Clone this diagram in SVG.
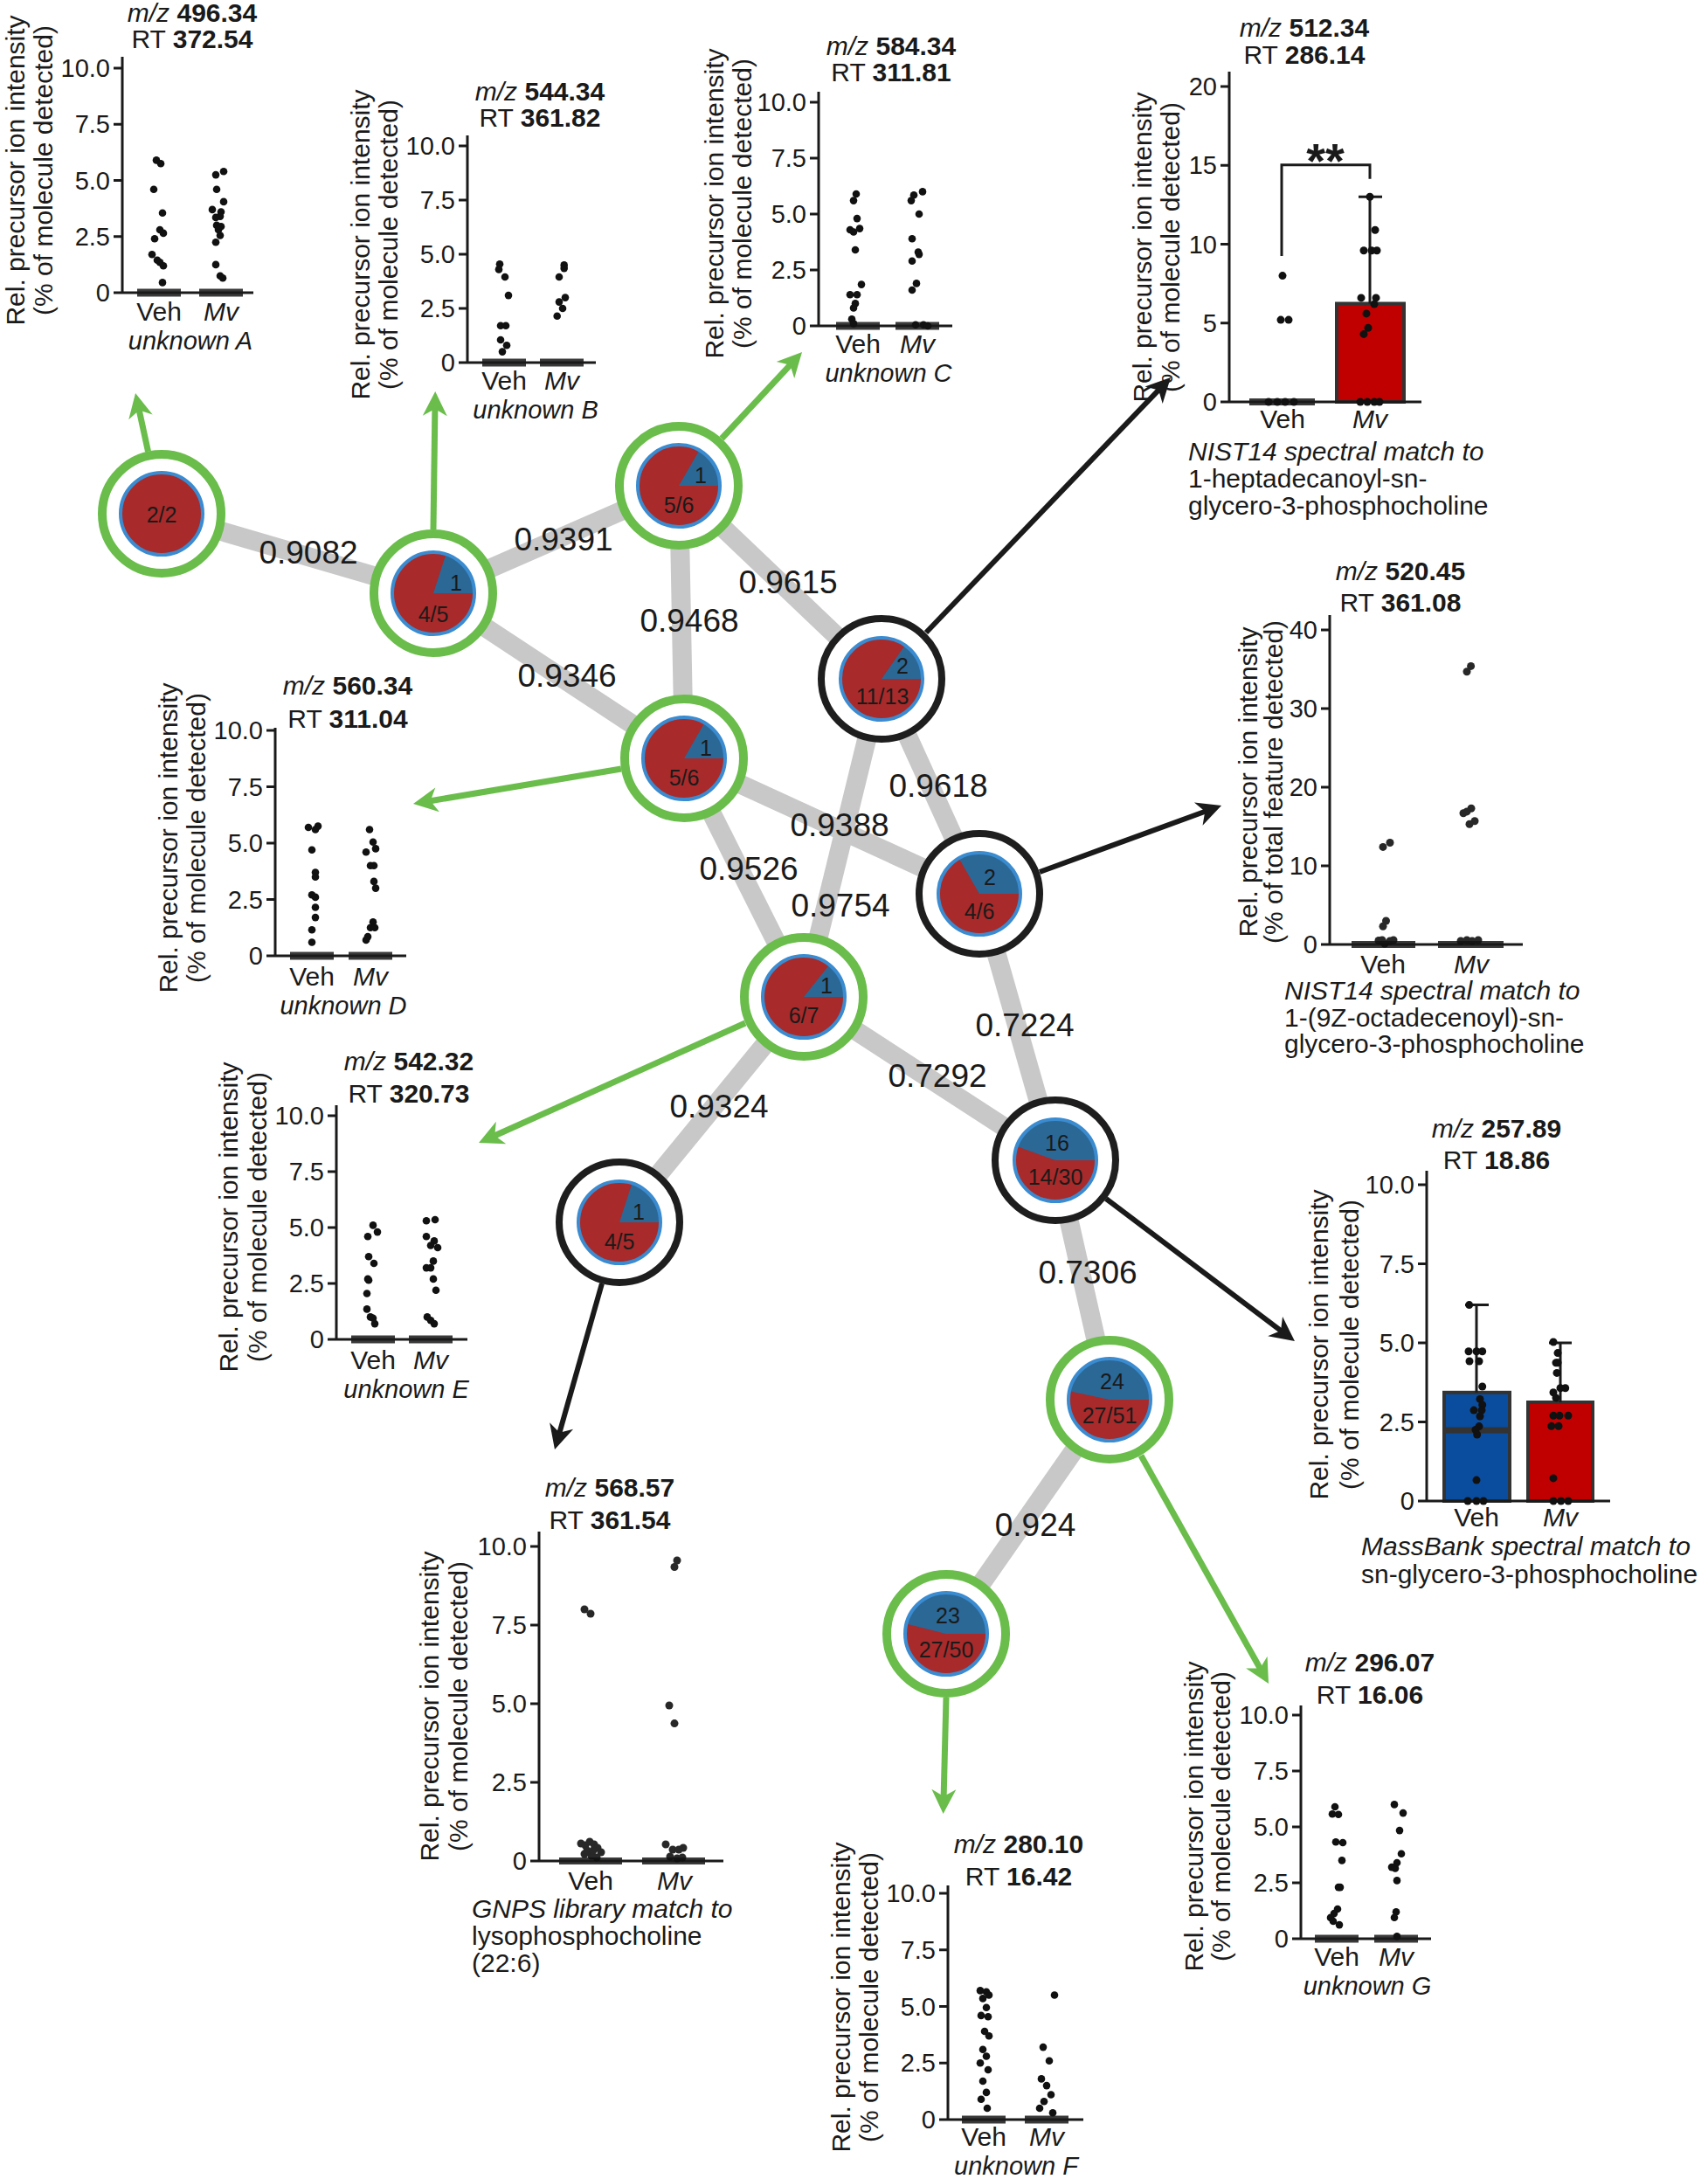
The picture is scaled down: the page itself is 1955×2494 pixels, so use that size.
<svg xmlns="http://www.w3.org/2000/svg" width="1955" height="2494" viewBox="0 0 1955 2494">
<style>
text{font-family:"Liberation Sans",Arial,sans-serif;fill:#1a1a1a}
.ti{font-size:30px;text-anchor:middle}
.tl{font-size:29px;text-anchor:end}
.cl{font-size:30px;text-anchor:middle}
.un{font-size:29px;text-anchor:middle;font-style:italic}
.yt{font-size:30px;text-anchor:middle}
.cap{font-size:30px}
.it{font-style:italic}
.b{font-weight:bold}
.ax{stroke:#1a1a1a;stroke-width:3;fill:none}
.band{fill:#3a3a3a}
.d circle{fill:#111}
.edge{stroke:#c8c8c8;stroke-width:22;stroke-linecap:butt;fill:none}
.el{font-size:37px;text-anchor:middle}
.rg{fill:#fff;stroke:#6abd4b;stroke-width:10}
.rk{fill:#fff;stroke:#1e1e1e;stroke-width:8}
.pr{fill:#a82a2a}
.pb{fill:#2b6896}
.pe{fill:none;stroke:#3a8bd0;stroke-width:4}
.nl{font-size:25px;text-anchor:middle}
.cg{stroke:#6abd4b;stroke-width:7;fill:none}
.ck{stroke:#1a1a1a;stroke-width:6;fill:none}
.bar{stroke:#333;stroke-width:4}
</style>
<defs>
<marker id="ag" markerUnits="userSpaceOnUse" markerWidth="40" markerHeight="40" viewBox="-20 -20 40 40" refX="0" refY="0" orient="auto"><path d="M14,0 L-14,-14 L-6,0 L-14,14 Z" fill="#6abd4b"/></marker>
<marker id="ak" markerUnits="userSpaceOnUse" markerWidth="40" markerHeight="40" viewBox="-20 -20 40 40" refX="0" refY="0" orient="auto"><path d="M14,0 L-14,-14 L-6,0 L-14,14 Z" fill="#1a1a1a"/></marker>
</defs>
<rect width="1955" height="2494" fill="#fff"/>

<g id="edges">
<line class="edge" x1="185" y1="588" x2="496" y2="679"/>
<line class="edge" x1="496" y1="679" x2="777" y2="556"/>
<line class="edge" x1="496" y1="679" x2="783" y2="868"/>
<line class="edge" x1="777" y1="556" x2="783" y2="868"/>
<line class="edge" x1="777" y1="556" x2="1009" y2="777"/>
<line class="edge" x1="783" y1="868" x2="1121" y2="1023"/>
<line class="edge" x1="1009" y1="777" x2="920" y2="1141"/>
<line class="edge" x1="1009" y1="777" x2="1121" y2="1023"/>
<line class="edge" x1="783" y1="868" x2="920" y2="1141"/>
<line class="edge" x1="920" y1="1141" x2="709" y2="1399"/>
<line class="edge" x1="920" y1="1141" x2="1208" y2="1328"/>
<line class="edge" x1="1121" y1="1023" x2="1208" y2="1328"/>
<line class="edge" x1="1208" y1="1328" x2="1270" y2="1602"/>
<line class="edge" x1="1270" y1="1602" x2="1083" y2="1870"/>
<text class="el" x="353" y="645">0.9082</text>
<text class="el" x="645" y="630">0.9391</text>
<text class="el" x="902" y="679">0.9615</text>
<text class="el" x="789" y="723">0.9468</text>
<text class="el" x="649" y="786">0.9346</text>
<text class="el" x="857" y="1007">0.9526</text>
<text class="el" x="961" y="957">0.9388</text>
<text class="el" x="962" y="1049">0.9754</text>
<text class="el" x="1074" y="912">0.9618</text>
<text class="el" x="1173" y="1186">0.7224</text>
<text class="el" x="1073" y="1244">0.7292</text>
<text class="el" x="823" y="1279">0.9324</text>
<text class="el" x="1245" y="1469">0.7306</text>
<text class="el" x="1185" y="1758">0.924</text>
</g>

<g id="connectors">
<line class="cg" x1="169.5" y1="516.7" x2="158" y2="463.7" marker-end="url(#ag)"/>
<line class="cg" x1="496" y1="606" x2="498" y2="462" marker-end="url(#ag)"/>
<line class="cg" x1="826" y1="502" x2="908.5" y2="413.3" marker-end="url(#ag)"/>
<line class="ck" x1="1060" y1="724" x2="1330.3" y2="442.1" marker-end="url(#ak)"/>
<line class="cg" x1="711" y1="880" x2="486.8" y2="917.7" marker-end="url(#ag)"/>
<line class="ck" x1="1190" y1="998" x2="1384.9" y2="926.8" marker-end="url(#ak)"/>
<line class="cg" x1="853" y1="1171" x2="560.8" y2="1302.3" marker-end="url(#ag)"/>
<line class="ck" x1="689" y1="1469" x2="638.8" y2="1645.5" marker-end="url(#ak)"/>
<line class="ck" x1="1266" y1="1372" x2="1470.8" y2="1526.6" marker-end="url(#ak)"/>
<line class="cg" x1="1306" y1="1666" x2="1445.2" y2="1914.8" marker-end="url(#ag)"/>
<line class="cg" x1="1083" y1="1943" x2="1080" y2="2062" marker-end="url(#ag)"/>
</g>

<g id="node-2-2" transform="translate(185,588)">
<circle r="68" class="rg"/><circle r="47" class="pr"/><circle r="47" class="pe"/>
<text class="nl" x="0" y="10">2/2</text>
</g>
<g id="node-4-5a" transform="translate(496,679)">
<circle r="68" class="rg"/><circle r="47" class="pr"/>
<path class="pb" d="M0,0 L47,0 A47,47 0 0 0 14.5,-44.7 Z"/><circle r="47" class="pe"/>
<text class="nl" x="26" y="-3">1</text><text class="nl" x="0" y="33">4/5</text>
</g>
<g id="node-5-6a" transform="translate(777,556)">
<circle r="68" class="rg"/><circle r="47" class="pr"/>
<path class="pb" d="M0,0 L47,0 A47,47 0 0 0 23.5,-40.7 Z"/><circle r="47" class="pe"/>
<text class="nl" x="25" y="-3">1</text><text class="nl" x="0" y="31">5/6</text>
</g>
<g id="node-5-6b" transform="translate(783,868)">
<circle r="68" class="rg"/><circle r="47" class="pr"/>
<path class="pb" d="M0,0 L47,0 A47,47 0 0 0 23.5,-40.7 Z"/><circle r="47" class="pe"/>
<text class="nl" x="25" y="-3">1</text><text class="nl" x="0" y="31">5/6</text>
</g>
<g id="node-11-13" transform="translate(1009,777)">
<circle r="69" class="rk"/><circle r="47" class="pr"/>
<path class="pb" d="M0,0 L47,0 A47,47 0 0 0 27,-38.5 Z"/><circle r="47" class="pe"/>
<text class="nl" x="24" y="-6">2</text><text class="nl" x="1" y="29">11/13</text>
</g>
<g id="node-4-6" transform="translate(1121,1023)">
<circle r="69" class="rk"/><circle r="47" class="pr"/>
<path class="pb" d="M0,0 L47,0 A47,47 0 0 0 -23.5,-40.7 Z"/><circle r="47" class="pe"/>
<text class="nl" x="12" y="-10">2</text><text class="nl" x="0" y="29">4/6</text>
</g>
<g id="node-6-7" transform="translate(920,1141)">
<circle r="68" class="rg"/><circle r="47" class="pr"/>
<path class="pb" d="M0,0 L47,0 A47,47 0 0 0 29.3,-36.7 Z"/><circle r="47" class="pe"/>
<text class="nl" x="26" y="-4">1</text><text class="nl" x="0" y="30">6/7</text>
</g>
<g id="node-4-5b" transform="translate(709,1399)">
<circle r="69" class="rk"/><circle r="47" class="pr"/>
<path class="pb" d="M0,0 L47,0 A47,47 0 0 0 14.5,-44.7 Z"/><circle r="47" class="pe"/>
<text class="nl" x="22" y="-3">1</text><text class="nl" x="0" y="31">4/5</text>
</g>
<g id="node-14-30" transform="translate(1208,1328)">
<circle r="69" class="rk"/><circle r="47" class="pr"/>
<path class="pb" d="M0,0 L47,0 A47,47 0 0 0 -44.2,-16.1 Z"/><circle r="47" class="pe"/>
<text class="nl" x="2" y="-11">16</text><text class="nl" x="0" y="28">14/30</text>
</g>
<g id="node-27-51" transform="translate(1270,1602)">
<circle r="68" class="rg"/><circle r="47" class="pr"/>
<path class="pb" d="M0,0 L47,0 A47,47 0 0 0 -46,-9.8 Z"/><circle r="47" class="pe"/>
<text class="nl" x="3" y="-12">24</text><text class="nl" x="0" y="27">27/51</text>
</g>
<g id="node-27-50" transform="translate(1083,1870)">
<circle r="68" class="rg"/><circle r="47" class="pr"/>
<path class="pb" d="M0,0 L47,0 A47,47 0 0 0 -45.6,-11.4 Z"/><circle r="47" class="pe"/>
<text class="nl" x="2" y="-12">23</text><text class="nl" x="0" y="27">27/50</text>
</g>

<g id="plot-A" transform="translate(140,335)">
<text class="ti" x="80" y="-310"><tspan class="it">m/z</tspan> <tspan class="b">496.34</tspan></text>
<text class="ti" x="80" y="-280">RT <tspan class="b">372.54</tspan></text>
<rect class="band" x="17" y="-4.5" width="50" height="9"/><rect class="band" x="88" y="-4.5" width="50" height="9"/>
<path class="ax" d="M0,-270 V0 M-10,0 H150 M-10,-257 H0 M-10,-192.75 H0 M-10,-128.5 H0 M-10,-64.25 H0"/>
<text class="tl" x="-14" y="-247">10.0</text><text class="tl" x="-14" y="-182.75">7.5</text><text class="tl" x="-14" y="-118.5">5.0</text><text class="tl" x="-14" y="-54.25">2.5</text><text class="tl" x="-14" y="10">0</text>
<g class="d"><circle cx="39" cy="-151.6" r="4.3"/><circle cx="44" cy="-147.8" r="4.3"/><circle cx="36" cy="-118.2" r="4.3"/><circle cx="46" cy="-91.2" r="4.3"/><circle cx="43" cy="-72" r="4.3"/><circle cx="47" cy="-68.1" r="4.3"/><circle cx="37" cy="-61.7" r="4.3"/><circle cx="34" cy="-43.7" r="4.3"/><circle cx="40" cy="-37.3" r="4.3"/><circle cx="43" cy="-34.7" r="4.3"/><circle cx="47" cy="-30.8" r="4.3"/><circle cx="46" cy="-11.6" r="4.3"/>
<circle cx="107" cy="-134.9" r="4.3"/><circle cx="116" cy="-138.8" r="4.3"/><circle cx="108" cy="-118.2" r="4.3"/><circle cx="103" cy="-95.1" r="4.3"/><circle cx="116" cy="-104.1" r="4.3"/><circle cx="113" cy="-92.5" r="4.3"/><circle cx="112" cy="-87.4" r="4.3"/><circle cx="107" cy="-86.1" r="4.3"/><circle cx="108" cy="-77.1" r="4.3"/><circle cx="113" cy="-75.8" r="4.3"/><circle cx="110" cy="-72" r="4.3"/><circle cx="112" cy="-65.5" r="4.3"/><circle cx="107" cy="-57.8" r="4.3"/><circle cx="107" cy="-32.1" r="4.3"/><circle cx="112" cy="-19.3" r="4.3"/><circle cx="115" cy="-16.7" r="4.3"/></g>
<text class="cl" x="42" y="32">Veh</text><text class="cl it" x="113" y="32">Mv</text>
<text class="un" x="78" y="65">unknown A</text>
<text class="yt" transform="translate(-112,-140) rotate(-90)">Rel. precursor ion intensity</text>
<text class="yt" transform="translate(-80,-140) rotate(-90)">(% of molecule detected)</text>
</g>

<g id="plot-B" transform="translate(535,415)">
<text class="ti" x="83" y="-300"><tspan class="it">m/z</tspan> <tspan class="b">544.34</tspan></text>
<text class="ti" x="83" y="-270">RT <tspan class="b">361.82</tspan></text>
<rect class="band" x="17" y="-4.5" width="50" height="9"/><rect class="band" x="83" y="-4.5" width="50" height="9"/>
<path class="ax" d="M0,-260 V0 M-10,0 H147 M-10,-248 H0 M-10,-186 H0 M-10,-124 H0 M-10,-62 H0"/>
<text class="tl" x="-14" y="-238">10.0</text><text class="tl" x="-14" y="-176">7.5</text><text class="tl" x="-14" y="-114">5.0</text><text class="tl" x="-14" y="-52">2.5</text><text class="tl" x="-14" y="10">0</text>
<g class="d"><circle cx="37" cy="-112.8" r="4.3"/><circle cx="36" cy="-106.6" r="4.3"/><circle cx="43" cy="-98" r="4.3"/><circle cx="47" cy="-76.9" r="4.3"/><circle cx="38" cy="-42.2" r="4.3"/><circle cx="44" cy="-42.2" r="4.3"/><circle cx="38" cy="-26" r="4.3"/><circle cx="45" cy="-19.8" r="4.3"/><circle cx="40" cy="-12.4" r="4.3"/>
<circle cx="110.7" cy="-111.6" r="4.3"/><circle cx="110.7" cy="-107.9" r="4.3"/><circle cx="105" cy="-98" r="4.3"/><circle cx="105" cy="-69.4" r="4.3"/><circle cx="112" cy="-74.4" r="4.3"/><circle cx="109" cy="-62" r="4.3"/><circle cx="102.7" cy="-53.3" r="4.3"/></g>
<text class="cl" x="42" y="31">Veh</text><text class="cl it" x="108" y="31">Mv</text>
<text class="un" x="78" y="64">unknown B</text>
<text class="yt" transform="translate(-112,-135) rotate(-90)">Rel. precursor ion intensity</text>
<text class="yt" transform="translate(-80,-135) rotate(-90)">(% of molecule detected)</text>
</g>

<g id="plot-C" transform="translate(937,373)">
<text class="ti" x="83" y="-310"><tspan class="it">m/z</tspan> <tspan class="b">584.34</tspan></text>
<text class="ti" x="83" y="-280">RT <tspan class="b">311.81</tspan></text>
<rect class="band" x="20" y="-4.5" width="50" height="9"/><rect class="band" x="88" y="-4.5" width="50" height="9"/>
<path class="ax" d="M0,-268 V0 M-10,0 H153 M-10,-256 H0 M-10,-192 H0 M-10,-128 H0 M-10,-64 H0"/>
<text class="tl" x="-14" y="-246">10.0</text><text class="tl" x="-14" y="-182">7.5</text><text class="tl" x="-14" y="-118">5.0</text><text class="tl" x="-14" y="-54">2.5</text><text class="tl" x="-14" y="10">0</text>
<g class="d"><circle cx="43" cy="-151" r="4.3"/><circle cx="40" cy="-143.4" r="4.3"/><circle cx="44" cy="-122.9" r="4.3"/><circle cx="36" cy="-110" r="4.3"/><circle cx="40" cy="-107.5" r="4.3"/><circle cx="47" cy="-111.4" r="4.3"/><circle cx="42" cy="-87" r="4.3"/><circle cx="49" cy="-47.4" r="4.3"/><circle cx="36" cy="-35.8" r="4.3"/><circle cx="44" cy="-35.8" r="4.3"/><circle cx="42" cy="-25.6" r="4.3"/><circle cx="40" cy="-20.5" r="4.3"/><circle cx="38" cy="-7.7" r="4.3"/><circle cx="40" cy="-2.6" r="4.3"/>
<circle cx="119" cy="-153.6" r="4.3"/><circle cx="109" cy="-149.8" r="4.3"/><circle cx="106" cy="-143.4" r="4.3"/><circle cx="115" cy="-128" r="4.3"/><circle cx="107" cy="-99.8" r="4.3"/><circle cx="114" cy="-84.5" r="4.3"/><circle cx="115" cy="-81.9" r="4.3"/><circle cx="107" cy="-74.2" r="4.3"/><circle cx="112" cy="-48.6" r="4.3"/><circle cx="107" cy="-41" r="4.3"/><circle cx="120" cy="-1.3" r="4.3"/><circle cx="125" cy="0" r="4.3"/><circle cx="111" cy="-1.3" r="4.3"/></g>
<text class="cl" x="45" y="31">Veh</text><text class="cl it" x="113" y="31">Mv</text>
<text class="un" x="80" y="64">unknown C</text>
<text class="yt" transform="translate(-109,-140) rotate(-90)">Rel. precursor ion intensity</text>
<text class="yt" transform="translate(-77,-140) rotate(-90)">(% of molecule detected)</text>
</g>

<g id="plot-D" transform="translate(315,1094)">
<text class="ti" x="83" y="-299"><tspan class="it">m/z</tspan> <tspan class="b">560.34</tspan></text>
<text class="ti" x="83" y="-261">RT <tspan class="b">311.04</tspan></text>
<rect class="band" x="17" y="-4.5" width="50" height="9"/><rect class="band" x="84" y="-4.5" width="50" height="9"/>
<path class="ax" d="M0,-261 V0 M-10,0 H150 M-10,-258 H0 M-10,-193.5 H0 M-10,-129 H0 M-10,-64.5 H0"/>
<text class="tl" x="-14" y="-248">10.0</text><text class="tl" x="-14" y="-183.5">7.5</text><text class="tl" x="-14" y="-119">5.0</text><text class="tl" x="-14" y="-54.5">2.5</text><text class="tl" x="-14" y="10">0</text>
<g class="d"><circle cx="38" cy="-147" r="4.3"/><circle cx="49" cy="-148.4" r="4.3"/><circle cx="46" cy="-144.5" r="4.3"/><circle cx="42" cy="-121.3" r="4.3"/><circle cx="46" cy="-95.5" r="4.3"/><circle cx="46" cy="-90.3" r="4.3"/><circle cx="42" cy="-69.7" r="4.3"/><circle cx="46" cy="-67.1" r="4.3"/><circle cx="46" cy="-55.5" r="4.3"/><circle cx="46" cy="-43.9" r="4.3"/><circle cx="42" cy="-29.7" r="4.3"/><circle cx="42" cy="-15.5" r="4.3"/>
<circle cx="108" cy="-144.5" r="4.3"/><circle cx="112" cy="-130.3" r="4.3"/><circle cx="115" cy="-122.6" r="4.3"/><circle cx="104" cy="-118.7" r="4.3"/><circle cx="109" cy="-103.2" r="4.3"/><circle cx="113" cy="-103.2" r="4.3"/><circle cx="113" cy="-85.1" r="4.3"/><circle cx="115" cy="-77.4" r="4.3"/><circle cx="112" cy="-38.7" r="4.3"/><circle cx="109" cy="-32.3" r="4.3"/><circle cx="114" cy="-32.3" r="4.3"/><circle cx="106" cy="-21.9" r="4.3"/><circle cx="104" cy="-18.1" r="4.3"/></g>
<text class="cl" x="42" y="34">Veh</text><text class="cl it" x="109" y="34">Mv</text>
<text class="un" x="78" y="67">unknown D</text>
<text class="yt" transform="translate(-112,-135) rotate(-90)">Rel. precursor ion intensity</text>
<text class="yt" transform="translate(-80,-135) rotate(-90)">(% of molecule detected)</text>
</g>

<g id="plot-E" transform="translate(385,1533)">
<text class="ti" x="83" y="-308"><tspan class="it">m/z</tspan> <tspan class="b">542.32</tspan></text>
<text class="ti" x="83" y="-271">RT <tspan class="b">320.73</tspan></text>
<rect class="band" x="17" y="-4.5" width="50" height="9"/><rect class="band" x="83" y="-4.5" width="50" height="9"/>
<path class="ax" d="M0,-268 V0 M-10,0 H150 M-10,-256 H0 M-10,-192 H0 M-10,-128 H0 M-10,-64 H0"/>
<text class="tl" x="-14" y="-246">10.0</text><text class="tl" x="-14" y="-182">7.5</text><text class="tl" x="-14" y="-118">5.0</text><text class="tl" x="-14" y="-54">2.5</text><text class="tl" x="-14" y="10">0</text>
<g class="d"><circle cx="42" cy="-130.6" r="4.3"/><circle cx="36" cy="-117.8" r="4.3"/><circle cx="47" cy="-122.9" r="4.3"/><circle cx="37" cy="-94.7" r="4.3"/><circle cx="43" cy="-87" r="4.3"/><circle cx="36" cy="-69.1" r="4.3"/><circle cx="37" cy="-67.8" r="4.3"/><circle cx="35" cy="-52.5" r="4.3"/><circle cx="35" cy="-34.6" r="4.3"/><circle cx="39" cy="-25.6" r="4.3"/><circle cx="42" cy="-24.3" r="4.3"/><circle cx="44" cy="-17.9" r="4.3"/>
<circle cx="103" cy="-135.7" r="4.3"/><circle cx="113" cy="-137" r="4.3"/><circle cx="103" cy="-117.8" r="4.3"/><circle cx="112" cy="-112.6" r="4.3"/><circle cx="108" cy="-107.5" r="4.3"/><circle cx="116" cy="-105" r="4.3"/><circle cx="111" cy="-89.6" r="4.3"/><circle cx="103" cy="-81.9" r="4.3"/><circle cx="108" cy="-81.9" r="4.3"/><circle cx="111" cy="-69.1" r="4.3"/><circle cx="114" cy="-56.3" r="4.3"/><circle cx="104" cy="-25.6" r="4.3"/><circle cx="108" cy="-21.8" r="4.3"/><circle cx="112" cy="-17.9" r="4.3"/></g>
<text class="cl" x="42" y="34">Veh</text><text class="cl it" x="108" y="34">Mv</text>
<text class="un" x="80" y="67">unknown E</text>
<text class="yt" transform="translate(-113,-140) rotate(-90)">Rel. precursor ion intensity</text>
<text class="yt" transform="translate(-80,-140) rotate(-90)">(% of molecule detected)</text>
</g>

<g id="plot-F" transform="translate(1085,2426)">
<text class="ti" x="81" y="-305"><tspan class="it">m/z</tspan> <tspan class="b">280.10</tspan></text>
<text class="ti" x="81" y="-268">RT <tspan class="b">16.42</tspan></text>
<rect class="band" x="16" y="-4.5" width="50" height="9"/><rect class="band" x="88" y="-4.5" width="50" height="9"/>
<path class="ax" d="M0,-268 V0 M-10,0 H155 M-10,-259 H0 M-10,-194.25 H0 M-10,-129.5 H0 M-10,-64.75 H0"/>
<text class="tl" x="-14" y="-249">10.0</text><text class="tl" x="-14" y="-184.25">7.5</text><text class="tl" x="-14" y="-119.5">5.0</text><text class="tl" x="-14" y="-54.75">2.5</text><text class="tl" x="-14" y="10">0</text>
<g class="d"><circle cx="37" cy="-147.6" r="4.3"/><circle cx="44" cy="-146.3" r="4.3"/><circle cx="47" cy="-142.5" r="4.3"/><circle cx="40" cy="-138.6" r="4.3"/><circle cx="44" cy="-128.2" r="4.3"/><circle cx="38" cy="-119.1" r="4.3"/><circle cx="46" cy="-117.8" r="4.3"/><circle cx="42" cy="-101" r="4.3"/><circle cx="47" cy="-95.8" r="4.3"/><circle cx="40" cy="-80.3" r="4.3"/><circle cx="44" cy="-72.5" r="4.3"/><circle cx="37" cy="-64.8" r="4.3"/><circle cx="46" cy="-57" r="4.3"/><circle cx="40" cy="-44" r="4.3"/><circle cx="44" cy="-31.1" r="4.3"/><circle cx="38" cy="-23.3" r="4.3"/><circle cx="45" cy="-13" r="4.3"/>
<circle cx="122" cy="-142.5" r="4.3"/><circle cx="109" cy="-82.9" r="4.3"/><circle cx="116" cy="-67.3" r="4.3"/><circle cx="107" cy="-46.6" r="4.3"/><circle cx="113" cy="-38.9" r="4.3"/><circle cx="118" cy="-28.5" r="4.3"/><circle cx="110" cy="-20.7" r="4.3"/><circle cx="105" cy="-13" r="4.3"/><circle cx="120" cy="-7.8" r="4.3"/></g>
<text class="cl" x="41" y="30">Veh</text><text class="cl it" x="113" y="30">Mv</text>
<text class="un" x="78" y="63">unknown F</text>
<text class="yt" transform="translate(-112,-140) rotate(-90)">Rel. precursor ion intensity</text>
<text class="yt" transform="translate(-80,-140) rotate(-90)">(% of molecule detected)</text>
</g>

<g id="plot-G" transform="translate(1489,2219)">
<text class="ti" x="79" y="-306"><tspan class="it">m/z</tspan> <tspan class="b">296.07</tspan></text>
<text class="ti" x="79" y="-269">RT <tspan class="b">16.06</tspan></text>
<rect class="band" x="16" y="-4.5" width="50" height="9"/><rect class="band" x="84" y="-4.5" width="50" height="9"/>
<path class="ax" d="M0,-267 V0 M-10,0 H149 M-10,-256 H0 M-10,-192 H0 M-10,-128 H0 M-10,-64 H0"/>
<text class="tl" x="-14" y="-246">10.0</text><text class="tl" x="-14" y="-182">7.5</text><text class="tl" x="-14" y="-118">5.0</text><text class="tl" x="-14" y="-54">2.5</text><text class="tl" x="-14" y="10">0</text>
<g class="d"><circle cx="39" cy="-151" r="4.3"/><circle cx="36" cy="-142.8" r="4.3"/><circle cx="43" cy="-142.3" r="4.3"/><circle cx="40" cy="-110.8" r="4.3"/><circle cx="48" cy="-110" r="4.3"/><circle cx="47" cy="-89.6" r="4.3"/><circle cx="43" cy="-58.9" r="4.3"/><circle cx="45" cy="-58.9" r="4.3"/><circle cx="42" cy="-34" r="4.3"/><circle cx="38" cy="-28.9" r="4.3"/><circle cx="34" cy="-24.1" r="4.3"/><circle cx="37" cy="-20" r="4.3"/><circle cx="44" cy="-15.9" r="4.3"/>
<circle cx="107" cy="-153.6" r="4.3"/><circle cx="117" cy="-143.9" r="4.3"/><circle cx="113" cy="-123.9" r="4.3"/><circle cx="115" cy="-97.3" r="4.3"/><circle cx="104" cy="-81.9" r="4.3"/><circle cx="108" cy="-80.6" r="4.3"/><circle cx="110" cy="-87" r="4.3"/><circle cx="110" cy="-66.6" r="4.3"/><circle cx="109" cy="-30.7" r="4.3"/><circle cx="107" cy="-24.3" r="4.3"/><circle cx="110" cy="-2.6" r="4.3"/></g>
<text class="cl" x="41" y="31">Veh</text><text class="cl it" x="109" y="31">Mv</text>
<text class="un" x="76" y="64">unknown G</text>
<text class="yt" transform="translate(-112,-140) rotate(-90)">Rel. precursor ion intensity</text>
<text class="yt" transform="translate(-81,-140) rotate(-90)">(% of molecule detected)</text>
</g>

<g id="plot-H" transform="translate(1407,460)">
<text class="ti" x="86" y="-418"><tspan class="it">m/z</tspan> <tspan class="b">512.34</tspan></text>
<text class="ti" x="86" y="-387">RT <tspan class="b">286.14</tspan></text>
<rect class="band" x="23" y="-4" width="75" height="8"/>
<rect class="bar" x="123" y="-112.5" width="77" height="112.5" fill="#c00000"/>
<path class="ax" d="M161,-112.5 V-234.7 M148,-234.7 H175"/>
<path class="ax" d="M0,-378 V0 M-10,0 H220 M-10,-361 H0 M-10,-270.75 H0 M-10,-180.5 H0 M-10,-90.25 H0"/>
<text class="tl" x="-14" y="-351">20</text><text class="tl" x="-14" y="-260.75">15</text><text class="tl" x="-14" y="-170.5">10</text><text class="tl" x="-14" y="-80.25">5</text><text class="tl" x="-14" y="10">0</text>
<path class="ax" d="M60,-167 V-271.3 H161 V-255.3"/>
<text x="110" y="-257" font-size="56" font-weight="bold" text-anchor="middle">**</text>
<g class="d"><circle cx="61" cy="-144.4" r="4.5"/><circle cx="59" cy="-93.9" r="4.5"/><circle cx="68" cy="-93.9" r="4.5"/><circle cx="45" cy="0" r="4.5"/><circle cx="55" cy="0" r="4.5"/><circle cx="64" cy="0" r="4.5"/><circle cx="74" cy="0" r="4.5"/>
<circle cx="161" cy="-234.7" r="4.5"/><circle cx="167" cy="-196.7" r="4.5"/><circle cx="154" cy="-173.3" r="4.5"/><circle cx="169" cy="-173.3" r="4.5"/><circle cx="163" cy="-173.3" r="4.5"/><circle cx="151" cy="-119.1" r="4.5"/><circle cx="168" cy="-119.1" r="4.5"/><circle cx="166" cy="-111.9" r="4.5"/><circle cx="157" cy="-101.1" r="4.5"/><circle cx="159" cy="-84.8" r="4.5"/><circle cx="154" cy="-77.6" r="4.5"/><circle cx="150" cy="0" r="4.5"/><circle cx="158" cy="0" r="4.5"/><circle cx="166" cy="0" r="4.5"/><circle cx="172" cy="0" r="4.5"/></g>
<text class="cl" x="61" y="30">Veh</text><text class="cl it" x="161" y="30">Mv</text>
<text class="cap it" x="-47" y="67">NIST14 spectral match to</text>
<text class="cap" x="-47" y="98">1-heptadecanoyl-sn-</text>
<text class="cap" x="-47" y="129">glycero-3-phosphocholine</text>
<text class="yt" transform="translate(-89,-177) rotate(-90)">Rel. precursor ion intensity</text>
<text class="yt" transform="translate(-57,-177) rotate(-90)">(% of molecule detected)</text>
</g>

<g id="plot-I" transform="translate(1522,1081)">
<text class="ti" x="81" y="-417"><tspan class="it">m/z</tspan> <tspan class="b">520.45</tspan></text>
<text class="ti" x="81" y="-381">RT <tspan class="b">361.08</tspan></text>
<rect class="band" x="25" y="-4" width="73" height="8"/><rect class="band" x="124" y="-4" width="75" height="8"/>
<path class="ax" d="M0,-377 V0 M-10,0 H221 M-10,-360 H0 M-10,-270 H0 M-10,-180 H0 M-10,-90 H0"/>
<text class="tl" x="-14" y="-350">40</text><text class="tl" x="-14" y="-260">30</text><text class="tl" x="-14" y="-170">20</text><text class="tl" x="-14" y="-80">10</text><text class="tl" x="-14" y="10">0</text>
<g class="d" opacity="0.9"><circle cx="69" cy="-116.5" r="4.5"/><circle cx="61" cy="-111.6" r="4.5"/><circle cx="64.5" cy="-27" r="4.5"/><circle cx="61" cy="-20.7" r="4.5"/><circle cx="56" cy="-4.5" r="4.5"/><circle cx="60" cy="-5" r="4.5"/><circle cx="69" cy="-4" r="4.5"/><circle cx="73" cy="-5" r="4.5"/><circle cx="63" cy="-1" r="4.5"/>
<circle cx="161.6" cy="-318.6" r="4.5"/><circle cx="157" cy="-312.3" r="4.5"/><circle cx="162" cy="-155.7" r="4.5"/><circle cx="153" cy="-150.3" r="4.5"/><circle cx="157" cy="-152.1" r="4.5"/><circle cx="166" cy="-141.3" r="4.5"/><circle cx="160" cy="-137.7" r="4.5"/><circle cx="150" cy="-4" r="4.5"/><circle cx="157" cy="-5" r="4.5"/><circle cx="163" cy="-4" r="4.5"/><circle cx="170" cy="-5" r="4.5"/></g>
<text class="cl" x="61" y="33">Veh</text><text class="cl it" x="162" y="33">Mv</text>
<text class="cap it" x="-52" y="63">NIST14 spectral match to</text>
<text class="cap" x="-52" y="94">1-(9Z-octadecenoyl)-sn-</text>
<text class="cap" x="-52" y="124">glycero-3-phosphocholine</text>
<text class="yt" transform="translate(-83,-186) rotate(-90)">Rel. precursor ion intensity</text>
<text class="yt" transform="translate(-54,-186) rotate(-90)">(% of total feature detected)</text>
</g>

<g id="plot-J" transform="translate(617,2130)">
<text class="ti" x="81" y="-417"><tspan class="it">m/z</tspan> <tspan class="b">568.57</tspan></text>
<text class="ti" x="81" y="-380">RT <tspan class="b">361.54</tspan></text>
<rect class="band" x="23" y="-4" width="72" height="8"/><rect class="band" x="118" y="-4" width="72" height="8"/>
<path class="ax" d="M0,-377 V0 M-10,0 H211 M-10,-360 H0 M-10,-270 H0 M-10,-180 H0 M-10,-90 H0"/>
<text class="tl" x="-14" y="-350">10.0</text><text class="tl" x="-14" y="-260">7.5</text><text class="tl" x="-14" y="-170">5.0</text><text class="tl" x="-14" y="-80">2.5</text><text class="tl" x="-14" y="10">0</text>
<g class="d" opacity="0.9"><circle cx="52" cy="-288" r="4.5"/><circle cx="59" cy="-283" r="4.5"/><circle cx="48" cy="-20" r="4.5"/><circle cx="53" cy="-18" r="4.5"/><circle cx="58" cy="-22" r="4.5"/><circle cx="63" cy="-19" r="4.5"/><circle cx="67" cy="-15" r="4.5"/><circle cx="71" cy="-10" r="4.5"/><circle cx="52" cy="-8" r="4.5"/><circle cx="60" cy="-6" r="4.5"/><circle cx="66" cy="-4" r="4.5"/><circle cx="55" cy="-12" r="4.5"/><circle cx="62" cy="-12" r="4.5"/>
<circle cx="158" cy="-344" r="4.5"/><circle cx="155" cy="-336.5" r="4.5"/><circle cx="149" cy="-178" r="4.5"/><circle cx="155" cy="-157.4" r="4.5"/><circle cx="145" cy="-19" r="4.5"/><circle cx="153" cy="-13" r="4.5"/><circle cx="160" cy="-13" r="4.5"/><circle cx="165" cy="-15" r="4.5"/><circle cx="150" cy="-5" r="4.5"/><circle cx="158" cy="-3" r="4.5"/><circle cx="164" cy="-4" r="4.5"/></g>
<text class="cl" x="59" y="33">Veh</text><text class="cl it" x="155" y="33">Mv</text>
<text class="cap it" x="-77" y="65">GNPS library match to</text>
<text class="cap" x="-77" y="96">lysophosphocholine</text>
<text class="cap" x="-77" y="127">(22:6)</text>
<text class="yt" transform="translate(-115,-177) rotate(-90)">Rel. precursor ion intensity</text>
<text class="yt" transform="translate(-82,-177) rotate(-90)">(% of molecule detected)</text>
</g>

<g id="plot-K" transform="translate(1633,1718)">
<text class="ti" x="80" y="-416"><tspan class="it">m/z</tspan> <tspan class="b">257.89</tspan></text>
<text class="ti" x="80" y="-380">RT <tspan class="b">18.86</tspan></text>
<rect class="bar" x="20" y="-124.2" width="75" height="124.2" fill="#0a4d9e"/>
<line x1="20" y1="-81" x2="95" y2="-81" stroke="#333" stroke-width="7"/>
<rect class="bar" x="116" y="-113" width="74" height="113" fill="#c00000"/>
<path class="ax" d="M57,-124.2 V-224.4 M44,-224.4 H71 M153,-113 V-181 M140,-181 H166"/>
<path class="ax" d="M0,-378 V0 M-10,0 H210 M-10,-362 H0 M-10,-271.5 H0 M-10,-181 H0 M-10,-90.5 H0"/>
<text class="tl" x="-14" y="-352">10.0</text><text class="tl" x="-14" y="-261.5">7.5</text><text class="tl" x="-14" y="-171">5.0</text><text class="tl" x="-14" y="-80.5">2.5</text><text class="tl" x="-14" y="10">0</text>
<g class="d"><circle cx="48.7" cy="-224.4" r="4.5"/><circle cx="48" cy="-171.2" r="4.5"/><circle cx="57" cy="-171.2" r="4.5"/><circle cx="63.7" cy="-171.2" r="4.5"/><circle cx="49" cy="-160" r="4.5"/><circle cx="60" cy="-160" r="4.5"/><circle cx="63.7" cy="-131" r="4.5"/><circle cx="61" cy="-116.6" r="4.5"/><circle cx="63.7" cy="-110" r="4.5"/><circle cx="54" cy="-103.9" r="4.5"/><circle cx="63" cy="-103.9" r="4.5"/><circle cx="61" cy="-97" r="4.5"/><circle cx="60" cy="-85.4" r="4.5"/><circle cx="56" cy="-81.5" r="4.5"/><circle cx="57.7" cy="-76" r="4.5"/><circle cx="57" cy="-23.9" r="4.5"/><circle cx="47" cy="0" r="4.5"/><circle cx="57" cy="0" r="4.5"/><circle cx="65" cy="0" r="4.5"/>
<circle cx="145" cy="-182" r="4.5"/><circle cx="150" cy="-169.4" r="4.5"/><circle cx="148" cy="-158.2" r="4.5"/><circle cx="150" cy="-158.2" r="4.5"/><circle cx="149" cy="-146.6" r="4.5"/><circle cx="145" cy="-124.2" r="4.5"/><circle cx="153" cy="-129.2" r="4.5"/><circle cx="158.7" cy="-129.2" r="4.5"/><circle cx="148" cy="-118" r="4.5"/><circle cx="145" cy="-97.7" r="4.5"/><circle cx="152" cy="-97.7" r="4.5"/><circle cx="162" cy="-97.7" r="4.5"/><circle cx="142.7" cy="-85.8" r="4.5"/><circle cx="151" cy="-85.8" r="4.5"/><circle cx="145" cy="-26.1" r="4.5"/><circle cx="145" cy="0" r="4.5"/><circle cx="153.7" cy="0" r="4.5"/><circle cx="162" cy="0" r="4.5"/></g>
<text class="cl" x="57" y="29">Veh</text><text class="cl it" x="153" y="29">Mv</text>
<text class="cap it" x="-75" y="62">MassBank spectral match to</text>
<text class="cap" x="-75" y="94">sn-glycero-3-phosphocholine</text>
<text class="yt" transform="translate(-113,-179) rotate(-90)">Rel. precursor ion intensity</text>
<text class="yt" transform="translate(-78,-179) rotate(-90)">(% of molecule detected)</text>
</g>
</svg>
